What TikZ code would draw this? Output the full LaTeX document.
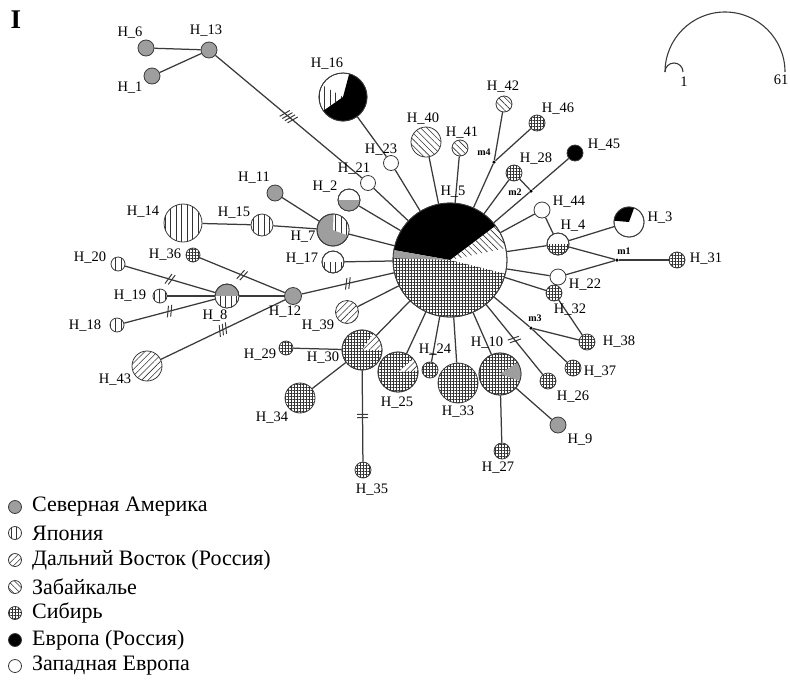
\documentclass[tikz,border=0pt]{standalone}
\usepackage{fontspec}
\setmainfont{Liberation Serif}
\usetikzlibrary{patterns.meta,decorations.markings}
\definecolor{edgec}{HTML}{3A3A3A}
\definecolor{nagray}{HTML}{9E9E9E}
\definecolor{patc}{HTML}{333333}
\pgfdeclarelayer{bg}
\pgfsetlayers{bg,main}
\newcommand\hapNode[5]{\node[hap,minimum size=#4pt,#5] (#1) at (#2,#3) {};}
\newcommand\pieSect[5]{\fill[#5] (#1.center) -- ++(#3:#2pt) arc[start angle=#3,end angle=#4,radius=#2pt] -- cycle;}
\newcommand\pieRim[2]{\draw[edgec,line width=0.8pt] (#1.center) circle[radius=#2pt];}
\tikzset{
 hap/.style={circle,draw=edgec,line width=0.8pt,fill=white,inner sep=0pt},
 lab/.style={font=\fontsize{14.5}{14.5}\selectfont,inner sep=0pt},
 mlab/.style={font=\fontsize{10}{10}\selectfont\bfseries,inner sep=0pt},
 legt/.style={font=\fontsize{22}{22}\selectfont,inner sep=0pt,anchor=west},
 med/.style={circle,fill=black,inner sep=0pt,minimum size=3.5pt},
 edge/.style={draw=edgec,line width=1.25pt},
 na/.style={fill=nagray},
 jp/.style={pattern={Lines[angle=90,distance=5.5pt,line width=0.6pt]},pattern color=patc},
 fe/.style={pattern={Lines[angle=45,distance=4.5pt,line width=0.6pt]},pattern color=patc},
 zb/.style={pattern={Lines[angle=-45,distance=4.5pt,line width=0.6pt]},pattern color=patc},
 sb/.style={pattern={Hatch[angle=0,distance=3pt,line width=0.4pt]},pattern color=patc},
 eu/.style={fill=black},
 we/.style={fill=white},
 cuts/.style={postaction={decorate,decoration={markings,mark=at position 0.5 with {\foreach \k in {1,...,#1}{\draw[edgec,line width=1pt] ({(\k-(#1+1)/2)*3.4pt-2pt},-5.5pt) -- ({(\k-(#1+1)/2)*3.4pt+2pt},5.5pt);}}}}},
 pcuts/.style={postaction={decorate,decoration={markings,mark=at position 0.5 with {\foreach \k in {1,...,#1}{\draw[edgec,line width=1pt] ({(\k-(#1+1)/2)*3.4pt},-5.5pt) -- ({(\k-(#1+1)/2)*3.4pt},5.5pt);}}}}},
 tick/.style={postaction={decorate,decoration={markings,mark=at position 0.82 with {\draw[edgec,line width=0.8pt] (0pt,-3.5pt)--(0pt,3.5pt);}}}},
}
\begin{document}
\begin{tikzpicture}[x=1pt,y=-1pt]
\useasboundingbox (0,0) rectangle (790,681);
% title
\node[font=\fontsize{27}{27}\selectfont\bfseries,inner sep=0pt] (title) at (16,20) {I};
% scale glyph
\coordinate (sc0) at (665,72);
\draw[edgec,line width=1.1pt] (sc0) arc[start angle=180,end angle=0,radius=60pt];
\draw[edgec,line width=1.1pt] (sc0) arc[start angle=180,end angle=0,radius=9pt];
\node[lab] (s1) at (684,82) {1};
\node[lab] (s61) at (781,80) {61};
% simple haplotypes
\hapNode{H6}{146}{48}{16}{na}
\hapNode{H13}{209}{50}{16}{na}
\hapNode{H1}{152}{76}{16}{na}
\hapNode{H23}{391}{163}{15}{we}
\hapNode{H21}{368}{183}{15}{we}
\hapNode{H11}{275}{193}{16}{na}
\hapNode{H14}{183}{223}{38}{jp}
\hapNode{H15}{262}{225}{22}{jp}
\hapNode{H36}{193}{255}{14}{sb}
\hapNode{H20}{118}{264}{14}{jp}
\hapNode{H19}{160}{296}{14}{jp}
\hapNode{H18}{117}{325}{14}{jp}
\hapNode{H12}{293}{296}{17}{na}
\hapNode{H43}{147}{366}{30}{fe}
\hapNode{H39}{347}{312}{23}{fe}
\hapNode{H29}{286}{348}{14}{sb}
\hapNode{H34}{300}{398}{30}{sb}
\hapNode{H35}{363}{470}{16}{sb}
\hapNode{H24}{430}{370}{16}{sb}
\hapNode{H33}{458}{383}{40}{sb}
\hapNode{H27}{502}{451}{16}{sb}
\hapNode{H9}{558}{425}{16}{na}
\hapNode{H26}{548}{381}{16}{sb}
\hapNode{H37}{573}{368}{16}{sb}
\hapNode{H38}{587}{342}{16}{sb}
\hapNode{H32}{554}{293}{16}{sb}
\hapNode{H22}{558}{277}{16}{we}
\hapNode{H31}{677}{260}{16}{sb}
\hapNode{H44}{542}{210}{16}{we}
\hapNode{H45}{575}{153}{16}{eu}
\hapNode{H28}{514}{173}{16}{sb}
\hapNode{H46}{537}{123}{16}{sb}
\hapNode{H42}{504}{104}{16}{zb}
\hapNode{H41}{460}{148}{16}{zb}
\hapNode{H40}{426}{142}{30}{zb}
% pie haplotypes
\hapNode{H5}{450}{260}{114}{}
\pieSect{H5}{57}{37}{170}{eu}
\pieSect{H5}{57}{170}{178}{na}
\pieSect{H5}{57}{178}{346}{sb}
\pieSect{H5}{57}{12}{37}{zb}
\pieRim{H5}{57}
\hapNode{H16}{343}{97}{48}{}
\pieSect{H16}{24}{215}{435}{eu}
\pieSect{H16}{24}{150}{215}{jp}
\pieRim{H16}{24}
\hapNode{H2}{349}{200}{22}{}
\pieSect{H2}{11}{180}{360}{na}
\pieRim{H2}{11}
\hapNode{H7}{333}{230}{32}{na}
\pieSect{H7}{16}{-20}{88}{we}
\pieSect{H7}{16}{-20}{88}{jp}
\pieRim{H7}{16}
\hapNode{H17}{333}{262}{22}{}
\pieSect{H17}{11}{180}{360}{jp}
\pieRim{H17}{11}
\hapNode{H8}{227}{296}{24}{na}
\pieSect{H8}{12}{180}{360}{we}
\pieSect{H8}{12}{180}{360}{jp}
\pieRim{H8}{12}
\hapNode{H30}{362}{350}{40}{sb}
\pieSect{H30}{20}{0}{55}{we}
\pieSect{H30}{20}{0}{55}{fe}
\pieRim{H30}{20}
\hapNode{H25}{398}{372}{40}{sb}
\pieSect{H25}{20}{5}{40}{we}
\pieSect{H25}{20}{5}{40}{fe}
\pieRim{H25}{20}
\hapNode{H10}{500}{374}{42}{sb}
\pieSect{H10}{21}{-19}{33}{na}
\pieRim{H10}{21}
\hapNode{H4}{558}{244}{22}{}
\pieSect{H4}{11}{180}{360}{sb}
\pieRim{H4}{11}
\hapNode{H3}{629}{222}{30}{}
\pieSect{H3}{15}{70}{175}{eu}
\pieRim{H3}{15}
% median vectors
\node[med] (m1) at (617,260) {};
\node[med] (m2) at (531,191) {};
\node[med] (m3) at (531,328) {};
\node[med] (m4) at (494,162) {};
% labels
\node[lab] (lH6) at (130,33) {H\_6};
\node[lab] (lH13) at (206,31) {H\_13};
\node[lab] (lH1) at (130,88) {H\_1};
\node[lab] (lH16) at (327,64) {H\_16};
\node[lab] (lH23) at (381,150) {H\_23};
\node[lab] (lH21) at (354,169) {H\_21};
\node[lab] (lH2) at (325,187) {H\_2};
\node[lab] (lH11) at (254,178) {H\_11};
\node[lab] (lH7) at (303,237) {H\_7};
\node[lab] (lH14) at (143,212) {H\_14};
\node[lab] (lH15) at (234,213) {H\_15};
\node[lab] (lH17) at (302,259) {H\_17};
\node[lab] (lH36) at (165,255) {H\_36};
\node[lab] (lH20) at (90,258) {H\_20};
\node[lab] (lH19) at (130,296) {H\_19};
\node[lab] (lH18) at (85,326) {H\_18};
\node[lab] (lH8) at (215,316) {H\_8};
\node[lab] (lH12) at (285,312) {H\_12};
\node[lab] (lH43) at (115,380) {H\_43};
\node[lab] (lH39) at (318,326) {H\_39};
\node[lab] (lH29) at (260,355) {H\_29};
\node[lab] (lH30) at (323,358) {H\_30};
\node[lab] (lH34) at (272,418) {H\_34};
\node[lab] (lH35) at (372,490) {H\_35};
\node[lab] (lH25) at (397,403) {H\_25};
\node[lab] (lH24) at (435,350) {H\_24};
\node[lab] (lH33) at (458,412) {H\_33};
\node[lab] (lH10) at (487,343) {H\_10};
\node[lab] (lH27) at (498,468) {H\_27};
\node[lab] (lH9) at (580,440) {H\_9};
\node[lab] (lH26) at (573,397) {H\_26};
\node[lab] (lH37) at (600,372) {H\_37};
\node[lab] (lH38) at (619,342) {H\_38};
\node[lab] (lH32) at (570,310) {H\_32};
\node[lab] (lH22) at (585,285) {H\_22};
\node[lab] (lH31) at (706,259) {H\_31};
\node[lab] (lH4) at (573,226) {H\_4};
\node[lab] (lH44) at (569,202) {H\_44};
\node[lab] (lH3) at (660,218) {H\_3};
\node[lab] (lH45) at (604,145) {H\_45};
\node[lab] (lH28) at (536,159) {H\_28};
\node[lab] (lH46) at (558,109) {H\_46};
\node[lab] (lH42) at (503,87) {H\_42};
\node[lab] (lH41) at (462,133) {H\_41};
\node[lab] (lH40) at (423,119) {H\_40};
\node[lab] (lH5) at (453,192) {H\_5};
\node[mlab] (lm1) at (624,251) {m1};
\node[mlab] (lm2) at (515,192) {m2};
\node[mlab] (lm3) at (535,318) {m3};
\node[mlab] (lm4) at (484,152) {m4};
% edges
\begin{pgfonlayer}{bg}
\draw[edge] (H6) -- (H13);
\draw[edge] (H1) -- (H13);
\draw[edge,cuts=4] (H13) -- (H21);
\draw[edge] (H21) -- (H5);
\draw[edge] (H16) -- (H23);
\draw[edge] (H23) -- (H5);
\draw[edge] (H2) -- (H5);
\draw[edge] (H11) -- (H7);
\draw[edge] (H14) -- (H15);
\draw[edge] (H15) -- (H7);
\draw[edge] (H7) -- (H5);
\draw[edge] (H17) -- (H5);
\draw[edge,cuts=2] (H12) -- (H5);
\draw[edge,cuts=2] (H36) -- (H12);
\draw[edge,cuts=2] (H20) -- (H8);
\draw[edge] (H19) -- (H8);
\draw[edge,cuts=2] (H18) -- (H8);
\draw[edge] (H8) -- (H12);
\draw[edge,cuts=3] (H43) -- (H12);
\draw[edge] (H39) -- (H5);
\draw[edge] (H29) -- (H30);
\draw[edge] (H30) -- (H5);
\draw[edge] (H34) -- (H30);
\draw[edge,pcuts=2] (H30) -- (H35);
\draw[edge] (H25) -- (H5);
\draw[edge,tick] (H5) -- (H24);
\draw[edge] (H33) -- (H5);
\draw[edge] (H10) -- (H5);
\draw[edge] (H10) -- (H27);
\draw[edge] (H10) -- (H9);
\draw[edge,cuts=2] (H5) -- (H26);
\draw[edge] (H5) -- (m3);
\draw[edge] (m3) -- (H37);
\draw[edge] (m3) -- (H38);
\draw[edge] (H32) -- (H38);
\draw[edge] (H5) -- (H32);
\draw[edge] (H5) -- (H22);
\draw[edge] (H22) -- (m1);
\draw[edge] (H4) -- (m1);
\draw[edge] (m1) -- (H31);
\draw[edge] (H5) -- (H4);
\draw[edge] (H4) -- (H3);
\draw[edge] (H44) -- (H4);
\draw[edge] (H44) -- (H5);
\draw[edge] (H5) -- (m2);
\draw[edge] (m2) -- (H45);
\draw[edge] (H28) -- (m2);
\draw[edge] (H28) -- (H5);
\draw[edge] (H5) -- (m4);
\draw[edge] (m4) -- (H42);
\draw[edge] (m4) -- (H46);
\draw[edge] (H5) -- (H41);
\draw[edge] (H5) -- (H40);
\end{pgfonlayer}
% legend
\node[hap,minimum size=13pt,na] (g1) at (15,507) {};
\node[legt] (t1) at (32,507) {Северная Америка};
\node[hap,minimum size=13pt,jp] (g2) at (15,533) {};
\node[legt] (t2) at (32,533) {Япония};
\node[hap,minimum size=13pt,fe] (g3) at (15,560) {};
\node[legt] (t3) at (32,560) {Дальний Восток (Россия)};
\node[hap,minimum size=13pt,zb] (g4) at (15,587) {};
\node[legt] (t4) at (32,587) {Забайкалье};
\node[hap,minimum size=13pt,sb] (g5) at (15,613) {};
\node[legt] (t5) at (32,613) {Сибирь};
\node[hap,minimum size=13pt,eu] (g6) at (15,640) {};
\node[legt] (t6) at (32,640) {Европа (Россия)};
\node[hap,minimum size=13pt,we] (g7) at (15,666) {};
\node[legt] (t7) at (32,666) {Западная Европа};
\end{tikzpicture}
\end{document}
